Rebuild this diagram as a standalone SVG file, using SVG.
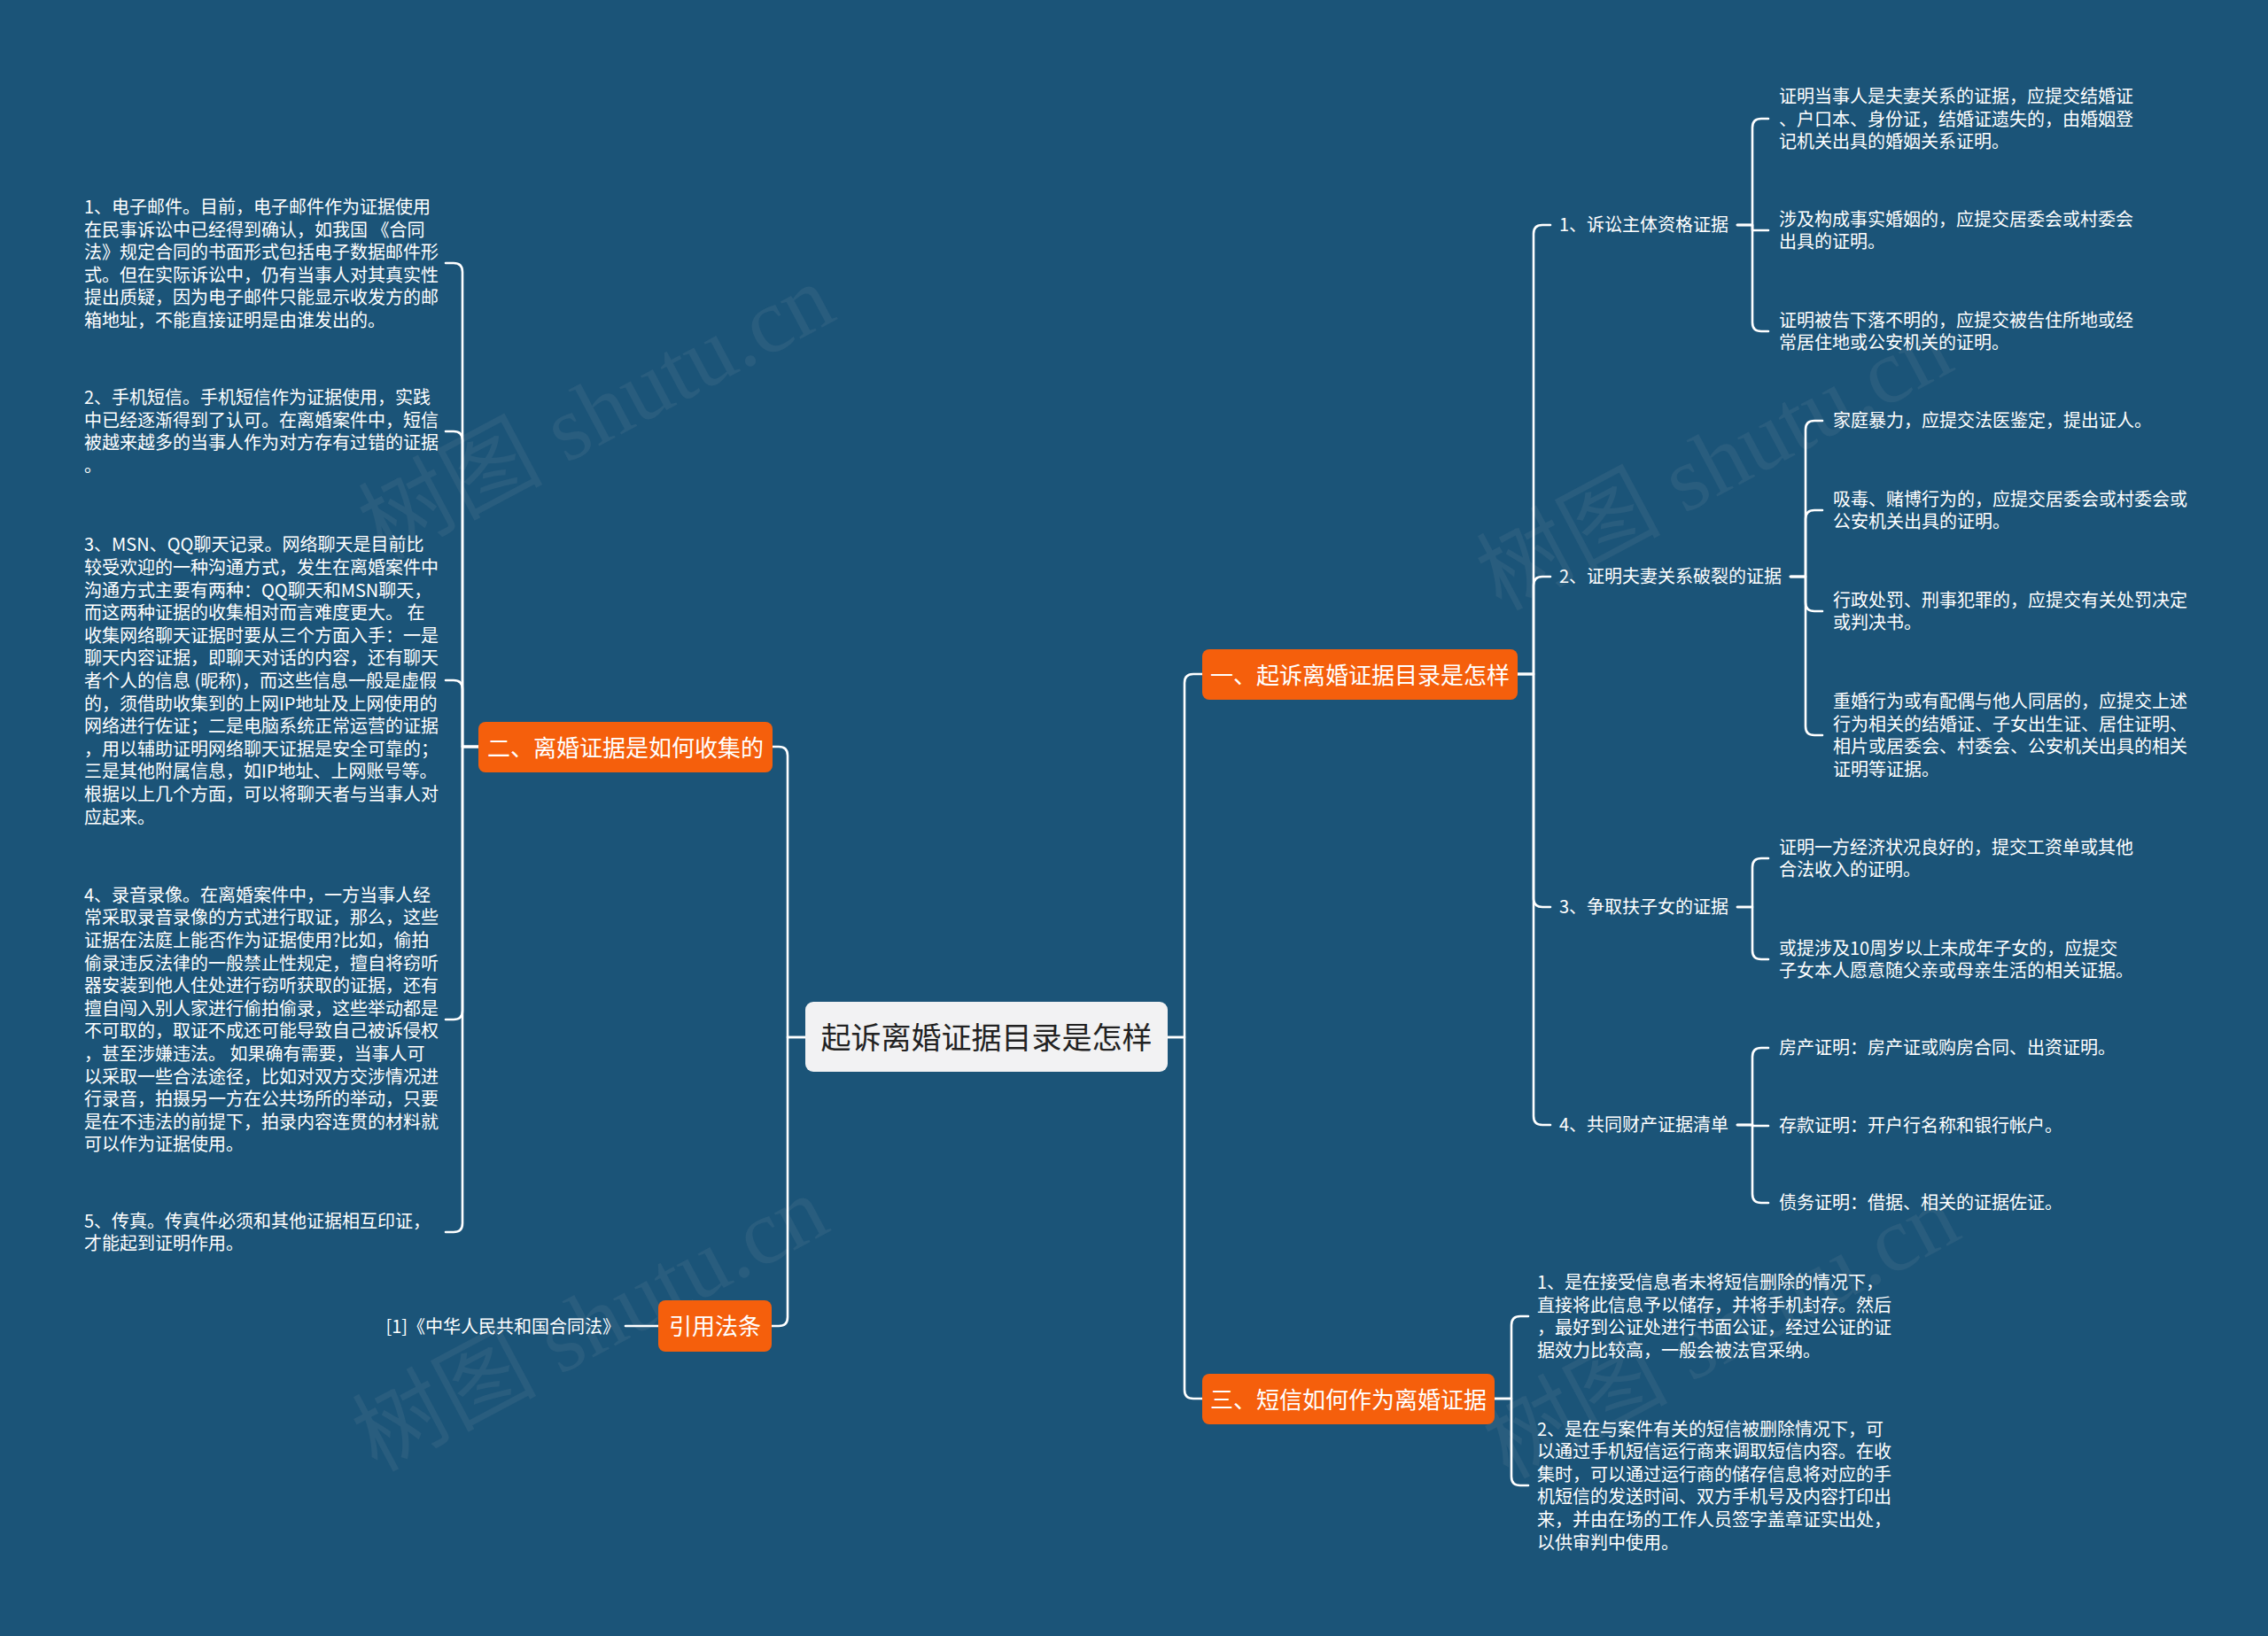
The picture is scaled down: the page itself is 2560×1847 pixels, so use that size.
<svg xmlns="http://www.w3.org/2000/svg" width="2560" height="1847" viewBox="0 0 2560 1847">
<style>
text{font-family:"Noto Sans CJK SC","Microsoft YaHei",sans-serif;dominant-baseline:central}
.leaf,.lbl,.main,.root{transform:translateY(-1.5px)}
.leaf{font-size:20px;fill:#ffffff}
.lbl{font-size:20px;fill:#ffffff}
.main{font-size:26px;fill:#ffffff;text-anchor:middle}
.root{font-size:34px;fill:#222222;text-anchor:middle}
.obox{fill:#f55f0c}
.edge{fill:none;stroke:#ffffff;stroke-width:2.6;stroke-linecap:round;stroke-linejoin:round}
.wm{font-family:"Liberation Serif","Noto Sans CJK SC",serif;font-size:104px;fill:#8b9aa8;fill-opacity:0.13;text-anchor:middle}
</style>
<rect x="0" y="0" width="2560" height="1847" fill="#1b5478"/>
<g id="watermarks">
<text class="wm" transform="translate(673,465) rotate(-28)">树图 shutu.cn</text>
<text class="wm" transform="translate(1935,522) rotate(-28)">树图 shutu.cn</text>
<text class="wm" transform="translate(666,1494) rotate(-28)">树图 shutu.cn</text>
<text class="wm" transform="translate(1943,1502) rotate(-28)">树图 shutu.cn</text>
</g>
<g id="connectors" class="edge">
<path d="M1318,1171 H1337 V771 Q1337,761 1347,761 H1357"/>
<path d="M1318,1171 H1337 V1569 Q1337,1579 1347,1579 H1357"/>
<path d="M909,1171 H889 V853 Q889,843 879,843 H872"/>
<path d="M909,1171 H889 V1487 Q889,1497 879,1497 H871"/>
<path d="M1713,761 H1731 V264 Q1731,254 1741,254 H1750"/>
<path d="M1713,761 H1731 V661 Q1731,651 1741,651 H1750"/>
<path d="M1713,761 H1731 V1014 Q1731,1024 1741,1024 H1750"/>
<path d="M1713,761 H1731 V1260 Q1731,1270 1741,1270 H1750"/>
<path d="M1687,1579 H1706 V1496 Q1706,1486 1716,1486 H1725"/>
<path d="M1687,1579 H1706 V1667 Q1706,1677 1716,1677 H1725"/>
<path d="M1961,254 H1978 V144 Q1978,134 1988,134 H1996"/>
<path d="M1961,254 H1978 V260 H1996"/>
<path d="M1961,254 H1978 V364 Q1978,374 1988,374 H1996"/>
<path d="M2021,651 H2038 V485 Q2038,475 2048,475 H2057"/>
<path d="M2021,651 H2038 V586 Q2038,576 2048,576 H2057"/>
<path d="M2021,651 H2038 V680 Q2038,690 2048,690 H2057"/>
<path d="M2021,651 H2038 V820 Q2038,830 2048,830 H2057"/>
<path d="M1961,1024 H1978 V979 Q1978,969 1988,969 H1996"/>
<path d="M1961,1024 H1978 V1073 Q1978,1083 1988,1083 H1996"/>
<path d="M1961,1270 H1978 V1193 Q1978,1183 1988,1183 H1996"/>
<path d="M1961,1270 H1978 V1271 H1996"/>
<path d="M1961,1270 H1978 V1348 Q1978,1358 1988,1358 H1996"/>
<path d="M540,843 H522 V307 Q522,297 512,297 H503"/>
<path d="M540,843 H522 V497 Q522,487 512,487 H503"/>
<path d="M540,843 H522 V778 Q522,768 512,768 H503"/>
<path d="M540,843 H522 V1141 Q522,1151 512,1151 H503"/>
<path d="M540,843 H522 V1381 Q522,1391 512,1391 H503"/>
<path d="M743,1497 H706"/>
</g>
<g id="root">
<rect x="909" y="1131" width="409" height="79" rx="9" fill="#f2f2f3"/>
<text class="root" x="1113.5" y="1171">起诉离婚证据目录是怎样</text>
</g>
<g id="n1">
<rect class="obox" x="1357" y="733" width="356" height="57" rx="8"/>
<text class="main" x="1535" y="761.5">一、起诉离婚证据目录是怎样</text>
</g>
<g id="n3">
<rect class="obox" x="1357" y="1551" width="330" height="57" rx="8"/>
<text class="main" x="1522" y="1579.5">三、短信如何作为离婚证据</text>
</g>
<g id="n2">
<rect class="obox" x="540" y="815" width="332" height="57" rx="8"/>
<text class="main" x="706" y="843.5">二、离婚证据是如何收集的</text>
</g>
<g id="n4">
<rect class="obox" x="743" y="1468" width="128" height="58" rx="8"/>
<text class="main" x="807" y="1497">引用法条</text>
</g>
<g id="n4-1"><text class="leaf" x="700" y="1498" text-anchor="end">[1]《中华人民共和国合同法》</text></g>
<g id="n1-1"><text class="lbl" x="1760" y="254">1、诉讼主体资格证据</text></g>
<g id="n1-2"><text class="lbl" x="1760" y="651">2、证明夫妻关系破裂的证据</text></g>
<g id="n1-3"><text class="lbl" x="1760" y="1024">3、争取扶子女的证据</text></g>
<g id="n1-4"><text class="lbl" x="1760" y="1270">4、共同财产证据清单</text></g>
<g id="n1-1-1"><text class="leaf" x="2008" y="108.4"><tspan x="2008">证明当事人是夫妻关系的证据，应提交结婚证</tspan><tspan x="2008" dy="25.6">、户口本、身份证，结婚证遗失的，由婚姻登</tspan><tspan x="2008" dy="25.6">记机关出具的婚姻关系证明。</tspan></text></g>
<g id="n1-1-2"><text class="leaf" x="2008" y="247.2"><tspan x="2008">涉及构成事实婚姻的，应提交居委会或村委会</tspan><tspan x="2008" dy="25.6">出具的证明。</tspan></text></g>
<g id="n1-1-3"><text class="leaf" x="2008" y="361.2"><tspan x="2008">证明被告下落不明的，应提交被告住所地或经</tspan><tspan x="2008" dy="25.6">常居住地或公安机关的证明。</tspan></text></g>
<g id="n1-2-1"><text class="leaf" x="2069" y="475">家庭暴力，应提交法医鉴定，提出证人。</text></g>
<g id="n1-2-2"><text class="leaf" x="2069" y="563.2"><tspan x="2069">吸毒、赌博行为的，应提交居委会或村委会或</tspan><tspan x="2069" dy="25.6">公安机关出具的证明。</tspan></text></g>
<g id="n1-2-3"><text class="leaf" x="2069" y="677.2"><tspan x="2069">行政处罚、刑事犯罪的，应提交有关处罚决定</tspan><tspan x="2069" dy="25.6">或判决书。</tspan></text></g>
<g id="n1-2-4"><text class="leaf" x="2069" y="791.6"><tspan x="2069">重婚行为或有配偶与他人同居的，应提交上述</tspan><tspan x="2069" dy="25.6">行为相关的结婚证、子女出生证、居住证明、</tspan><tspan x="2069" dy="25.6">相片或居委会、村委会、公安机关出具的相关</tspan><tspan x="2069" dy="25.6">证明等证据。</tspan></text></g>
<g id="n1-3-1"><text class="leaf" x="2008" y="956.2"><tspan x="2008">证明一方经济状况良好的，提交工资单或其他</tspan><tspan x="2008" dy="25.6">合法收入的证明。</tspan></text></g>
<g id="n1-3-2"><text class="leaf" x="2008" y="1070.2"><tspan x="2008">或提涉及10周岁以上未成年子女的，应提交</tspan><tspan x="2008" dy="25.6">子女本人愿意随父亲或母亲生活的相关证据。</tspan></text></g>
<g id="n1-4-1"><text class="leaf" x="2008" y="1183">房产证明：房产证或购房合同、出资证明。</text></g>
<g id="n1-4-2"><text class="leaf" x="2008" y="1271">存款证明：开户行名称和银行帐户。</text></g>
<g id="n1-4-3"><text class="leaf" x="2008" y="1358">债务证明：借据、相关的证据佐证。</text></g>
<g id="n3-1"><text class="leaf" x="1735" y="1447.6"><tspan x="1735">1、是在接受信息者未将短信删除的情况下，</tspan><tspan x="1735" dy="25.6">直接将此信息予以储存，并将手机封存。然后</tspan><tspan x="1735" dy="25.6">，最好到公证处进行书面公证，经过公证的证</tspan><tspan x="1735" dy="25.6">据效力比较高，一般会被法官采纳。</tspan></text></g>
<g id="n3-2"><text class="leaf" x="1735" y="1613"><tspan x="1735">2、是在与案件有关的短信被删除情况下，可</tspan><tspan x="1735" dy="25.6">以通过手机短信运行商来调取短信内容。在收</tspan><tspan x="1735" dy="25.6">集时，可以通过运行商的储存信息将对应的手</tspan><tspan x="1735" dy="25.6">机短信的发送时间、双方手机号及内容打印出</tspan><tspan x="1735" dy="25.6">来，并由在场的工作人员签字盖章证实出处，</tspan><tspan x="1735" dy="25.6">以供审判中使用。</tspan></text></g>
<g id="n2-1"><text class="leaf" x="95" y="233.5"><tspan x="95">1、电子邮件。目前，电子邮件作为证据使用</tspan><tspan x="95" dy="25.6">在民事诉讼中已经得到确认，如我国 《合同</tspan><tspan x="95" dy="25.6">法》规定合同的书面形式包括电子数据邮件形</tspan><tspan x="95" dy="25.6">式。但在实际诉讼中，仍有当事人对其真实性</tspan><tspan x="95" dy="25.6">提出质疑，因为电子邮件只能显示收发方的邮</tspan><tspan x="95" dy="25.6">箱地址，不能直接证明是由谁发出的。</tspan></text></g>
<g id="n2-2"><text class="leaf" x="95" y="448.6"><tspan x="95">2、手机短信。手机短信作为证据使用，实践</tspan><tspan x="95" dy="25.6">中已经逐渐得到了认可。在离婚案件中，短信</tspan><tspan x="95" dy="25.6">被越来越多的当事人作为对方存有过错的证据</tspan><tspan x="95" dy="25.6">。</tspan></text></g>
<g id="n2-3"><text class="leaf" x="95" y="614.9"><tspan x="95">3、MSN、QQ聊天记录。网络聊天是目前比</tspan><tspan x="95" dy="25.6">较受欢迎的一种沟通方式，发生在离婚案件中</tspan><tspan x="95" dy="25.6">沟通方式主要有两种：QQ聊天和MSN聊天，</tspan><tspan x="95" dy="25.6">而这两种证据的收集相对而言难度更大。 在</tspan><tspan x="95" dy="25.6">收集网络聊天证据时要从三个方面入手：一是</tspan><tspan x="95" dy="25.6">聊天内容证据，即聊天对话的内容，还有聊天</tspan><tspan x="95" dy="25.6">者个人的信息 (昵称)，而这些信息一般是虚假</tspan><tspan x="95" dy="25.6">的，须借助收集到的上网IP地址及上网使用的</tspan><tspan x="95" dy="25.6">网络进行佐证；二是电脑系统正常运营的证据</tspan><tspan x="95" dy="25.6">，用以辅助证明网络聊天证据是安全可靠的；</tspan><tspan x="95" dy="25.6">三是其他附属信息，如IP地址、上网账号等。</tspan><tspan x="95" dy="25.6">根据以上几个方面，可以将聊天者与当事人对</tspan><tspan x="95" dy="25.6">应起来。</tspan></text></g>
<g id="n2-4"><text class="leaf" x="95" y="1010.2"><tspan x="95">4、录音录像。在离婚案件中，一方当事人经</tspan><tspan x="95" dy="25.6">常采取录音录像的方式进行取证，那么，这些</tspan><tspan x="95" dy="25.6">证据在法庭上能否作为证据使用?比如，偷拍</tspan><tspan x="95" dy="25.6">偷录违反法律的一般禁止性规定，擅自将窃听</tspan><tspan x="95" dy="25.6">器安装到他人住处进行窃听获取的证据，还有</tspan><tspan x="95" dy="25.6">擅自闯入别人家进行偷拍偷录，这些举动都是</tspan><tspan x="95" dy="25.6">不可取的，取证不成还可能导致自己被诉侵权</tspan><tspan x="95" dy="25.6">，甚至涉嫌违法。 如果确有需要，当事人可</tspan><tspan x="95" dy="25.6">以采取一些合法途径，比如对双方交涉情况进</tspan><tspan x="95" dy="25.6">行录音，拍摄另一方在公共场所的举动，只要</tspan><tspan x="95" dy="25.6">是在不违法的前提下，拍录内容连贯的材料就</tspan><tspan x="95" dy="25.6">可以作为证据使用。</tspan></text></g>
<g id="n2-5"><text class="leaf" x="95" y="1378.2"><tspan x="95">5、传真。传真件必须和其他证据相互印证，</tspan><tspan x="95" dy="25.6">才能起到证明作用。</tspan></text></g>
</svg>
